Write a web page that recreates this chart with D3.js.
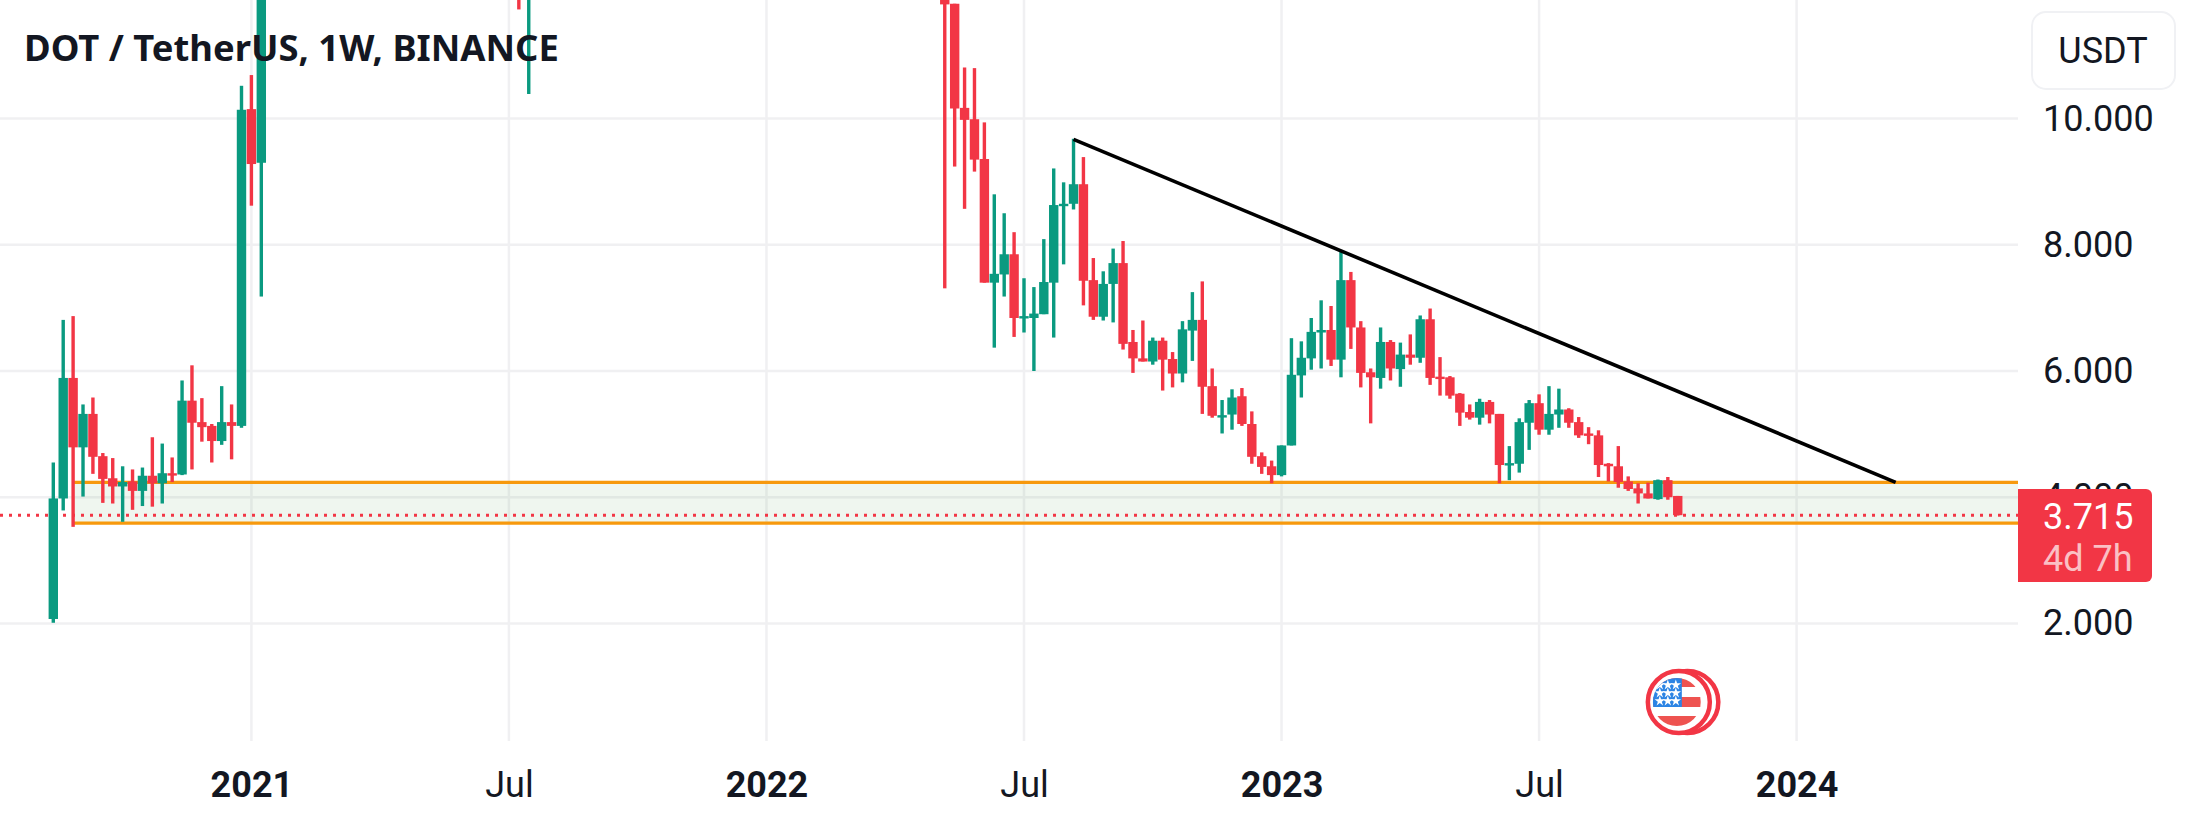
<!DOCTYPE html>
<html>
<head>
  <title>DOT / TetherUS, 1W, BINANCE</title>
  <meta charset="UTF-8">
  <script src="https://d3js.org/d3.v7.min.js"></script>
  <style>
    html, body { margin: 0; padding: 0; background: #fff; overflow: hidden; }
    svg { display: block; }
    text { fill: #131722; font-family: Roboto, sans-serif; }
  </style>
</head>
<body>
<svg id="mainplot"></svg>

<script>

// weekly bars, week 0 = Aug 17 2020. bars that stay fully above the frame are left out
const week = [0,1,2,3,4,5,6,7,8,9,10,11,12,13,14,15,16,17,18,19,20,21,47,48,
  90,91,92,93,94,95,96,97,98,99,100,101,102,103,104,105,106,107,108,109,110,111,112,113,114,115,116,117,118,119,
  120,121,122,123,124,125,126,127,128,129,130,131,132,133,134,135,136,137,138,139,140,141,142,143,144,145,146,147,148,149,
  150,151,152,153,154,155,156,157,158,159,160,161,162,163,164];

const open = [2.07,3.98,5.89,4.79,5.32,4.65,4.30,4.17,4.25,4.10,4.34,4.22,4.38,4.36,5.53,5.19,5.13,4.89,5.19,5.13,10.15,9.30,15.00,12.50,
  13.50,11.82,10.17,9.99,9.36,7.40,7.53,7.85,6.86,6.84,6.90,7.40,8.63,8.65,8.96,7.44,6.86,7.38,7.71,6.46,6.20,6.15,6.48,6.19,5.96,6.64,6.81,5.76,5.29,5.31,
  5.60,5.16,4.65,4.49,4.35,4.82,5.93,6.20,6.61,6.65,6.18,7.44,6.69,5.98,5.89,6.46,6.03,6.26,6.21,6.82,5.91,5.90,5.64,5.35,5.26,5.51,5.32,4.53,4.53,5.18,
  5.49,5.07,5.31,5.39,5.19,5.01,4.98,4.53,4.49,4.25,4.14,4.06,3.97,4.27,4.02];

const high = [4.55,6.81,6.87,5.47,5.58,4.70,4.62,4.49,4.44,4.47,4.95,4.85,4.63,5.85,6.09,5.57,5.16,5.76,5.47,10.52,10.69,14.00,16.00,17.50,
  14.00,11.82,10.81,10.80,9.94,8.80,8.50,8.20,7.47,7.33,8.09,9.21,8.99,9.68,9.39,7.79,7.58,7.94,8.06,6.65,6.80,6.53,6.53,6.30,6.79,7.25,7.42,6.04,5.54,5.71,
  5.73,5.36,4.71,4.58,4.82,6.52,6.47,6.84,7.12,7.03,7.89,7.57,6.79,6.04,6.69,6.49,6.45,6.58,6.88,6.99,6.22,5.92,5.65,5.47,5.56,5.54,5.32,4.81,5.25,5.54,
  5.63,5.76,5.72,5.41,5.27,5.11,5.06,4.54,4.81,4.33,4.22,4.23,4.28,4.32,4.02];

const low = [2.01,3.79,3.53,4.01,4.37,3.91,3.90,3.61,3.80,3.86,3.85,3.90,4.24,4.35,4.44,4.88,4.55,4.83,4.60,5.10,8.62,7.18,11.73,10.39,
  7.31,9.24,8.57,9.16,7.40,6.37,7.18,6.54,6.61,6.00,6.90,6.53,7.69,8.56,7.04,6.81,6.80,6.77,6.34,5.97,6.15,6.10,5.69,5.74,5.82,6.16,5.32,5.26,5.01,5.07,
  5.13,4.53,4.37,4.22,4.33,4.82,5.58,6.02,6.04,6.08,5.90,6.35,5.74,5.17,5.72,5.85,5.75,6.10,6.13,5.78,5.61,5.56,5.13,5.23,5.15,5.17,4.22,4.27,4.39,4.75,
  4.99,4.99,5.10,5.10,4.94,4.84,4.32,4.25,4.15,4.10,3.90,3.98,3.96,3.96,3.71];

const close = [3.98,5.89,4.79,5.32,4.64,4.29,4.17,4.24,4.10,4.34,4.22,4.38,4.36,5.53,5.18,5.11,4.89,5.19,5.13,10.14,9.28,13.50,13.00,17.00,
  11.81,10.16,9.98,9.35,7.40,7.54,7.85,6.84,6.87,6.91,7.41,8.63,8.65,8.96,7.43,6.86,7.38,7.71,6.43,6.20,6.15,6.48,6.18,5.96,6.66,6.81,5.75,5.29,5.30,5.58,
  5.16,4.64,4.48,4.35,4.82,5.94,6.21,6.62,6.65,6.18,7.44,6.69,5.97,5.90,6.46,6.04,6.26,6.21,6.82,5.89,5.88,5.61,5.34,5.26,5.51,5.31,4.51,4.54,5.19,5.49,
  5.07,5.32,5.39,5.18,4.98,4.98,4.51,4.49,4.24,4.13,4.06,3.98,4.27,4.00,3.715];

const priceTicks = [2, 4, 6, 8, 10];
const timeWeeks = [20, 46, 72, 98, 124, 150, 176];
const timeLabels = ["2021", "Jul", "2022", "Jul", "2023", "Jul", "2024"];
const lastPrice = 3.715;
const zoneTop = 4.236, zoneBottom = 3.59, zoneStartWeek = 2;
const trendWeeks = [103, 186], trendPrices = [9.672, 4.236];
const eventWeek = 163;

const width = 2187, height = 825, plotRight = 2018, plotBottom = 741;
const green = "#0a9a80", red = "#f23645", orange = "#f7990d", grid = "#f0f0f2";

const x = d3.scaleLinear().domain([0, 176]).range([53.3, 1796.6]);
const y = d3.scaleLinear().domain([2, 10]).range([623.4, 118.6]);

const svg = d3.select("#mainplot").attr("width", width).attr("height", height);

// grid
svg.append("g").selectAll("line").data(priceTicks).enter().append("line")
  .attr("x1", 0).attr("x2", plotRight)
  .attr("y1", d => y(d)).attr("y2", d => y(d))
  .attr("stroke", grid).attr("stroke-width", 2.5);

svg.append("g").selectAll("line").data(timeWeeks).enter().append("line")
  .attr("x1", d => x(d)).attr("x2", d => x(d))
  .attr("y1", 0).attr("y2", plotBottom)
  .attr("stroke", grid).attr("stroke-width", 2.5);

// support zone
svg.append("rect")
  .attr("x", x(zoneStartWeek)).attr("width", plotRight - x(zoneStartWeek))
  .attr("y", y(zoneTop)).attr("height", y(zoneBottom) - y(zoneTop))
  .attr("fill", "#4c9a50").attr("fill-opacity", 0.09);

svg.append("g").selectAll("line").data([zoneTop, zoneBottom]).enter().append("line")
  .attr("x1", x(zoneStartWeek)).attr("x2", plotRight)
  .attr("y1", d => y(d)).attr("y2", d => y(d))
  .attr("stroke", orange).attr("stroke-width", 3.2);

// last price line
svg.append("line")
  .attr("x1", 0).attr("x2", plotRight)
  .attr("y1", y(lastPrice)).attr("y2", y(lastPrice))
  .attr("stroke", red).attr("stroke-width", 3)
  .attr("stroke-dasharray", "3,6");

// candles
const bars = week.map((w, i) => ({ w: w, o: open[i], h: high[i], l: low[i], c: close[i] }));
const candle = svg.append("g").selectAll("g").data(bars).enter().append("g")
  .attr("fill", d => d.c >= d.o ? green : red);

candle.append("rect")
  .attr("x", d => x(d.w) - 1.7).attr("width", 3.4)
  .attr("y", d => y(d.h)).attr("height", d => y(d.l) - y(d.h));

candle.append("rect")
  .attr("x", d => x(d.w) - 4.7).attr("width", 9.4)
  .attr("y", d => Math.min(y(d.o), y(d.c)))
  .attr("height", d => Math.max(2.4, Math.abs(y(d.o) - y(d.c))));

// trend line
svg.append("line")
  .attr("x1", x(trendWeeks[0])).attr("y1", y(trendPrices[0]))
  .attr("x2", x(trendWeeks[1])).attr("y2", y(trendPrices[1]))
  .attr("stroke", "#000").attr("stroke-width", 3.6);

// axes
const yAxis = svg.append("g")
  .attr("transform", "translate(" + plotRight + ",0)")
  .call(d3.axisRight(y).tickValues(priceTicks).tickSize(0).tickPadding(25).tickFormat(d3.format(".3f")));
yAxis.select(".domain").remove();
yAxis.selectAll("text").style("font-size", "36px").style("font-family", "Roboto").attr("fill", "#131722");

const xAxis = svg.append("g")
  .attr("transform", "translate(0,762)")
  .call(d3.axisBottom(x).tickValues(timeWeeks).tickSize(0).tickPadding(9).tickFormat((d, i) => timeLabels[i]));
xAxis.select(".domain").remove();
xAxis.selectAll("text")
  .style("font-size", "36px").style("font-family", "Roboto")
  .style("font-weight", (d, i) => timeLabels[i] === "Jul" ? 400 : 700)
  .attr("fill", "#131722");

// last price tag
svg.append("path")
  .attr("d", "M" + plotRight + ",489H2146a6,6 0 0 1 6,6V576a6,6 0 0 1 -6,6H" + plotRight + "Z")
  .attr("fill", red);
svg.append("text").attr("x", 2043).attr("y", y(lastPrice) + 14)
  .style("font-size", "36px").style("fill", "#fff")
  .text(d3.format(".3f")(lastPrice));
svg.append("text").attr("x", 2043).attr("y", 571)
  .style("font-size", "36px").style("fill", "#fff").style("fill-opacity", 0.7)
  .text("4d 7h");

// currency button
svg.append("rect")
  .attr("x", 2032).attr("y", 12).attr("width", 143).attr("height", 77).attr("rx", 14)
  .attr("fill", "#fff").attr("stroke", "#f0f1f4").attr("stroke-width", 2);
svg.append("text").attr("x", 2103).attr("y", 63).attr("text-anchor", "middle")
  .style("font-size", "36px").text("USDT");

// title
svg.append("text").attr("x", 24).attr("y", 61)
  .style("font-size", "36.4px").style("font-weight", 700).style("font-family", "'Noto Sans'")
  .text("DOT / TetherUS, 1W, BINANCE");

// economic event badge
const badge = svg.append("g").attr("transform", "translate(" + (x(eventWeek) + 11) + ",702)");
const flagBlue = "#2c84e4", flagRed = "#ee5350";
badge.append("circle").attr("cx", 8.5).attr("r", 31).attr("fill", "#fff").attr("stroke", red).attr("stroke-width", 4.5);
badge.append("circle").attr("r", 31).attr("fill", "#fff").attr("stroke", red).attr("stroke-width", 4.5);
svg.append("clipPath").attr("id", "flagclip").append("circle").attr("r", 24);
const flag = badge.append("g").attr("clip-path", "url(#flagclip)").attr("transform", "translate(-2,0)");
[[-24, 9], [-5, 10], [14, 11]].forEach(s => {
  flag.append("rect").attr("x", -24).attr("y", s[0]).attr("width", 48).attr("height", s[1]).attr("fill", flagRed);
});
flag.append("rect").attr("x", -24).attr("y", -24).attr("width", 29).attr("height", 29).attr("fill", flagBlue);
const star = d3.symbol().type(d3.symbolStar).size(34);
[-17, -9, -1].forEach(sy => {
  [-17, -9, -1].forEach(sx => {
    flag.append("path").attr("d", star).attr("transform", "translate(" + sx + "," + sy + ")").attr("fill", "#fff");
  });
});

</script>
</body>
</html>
